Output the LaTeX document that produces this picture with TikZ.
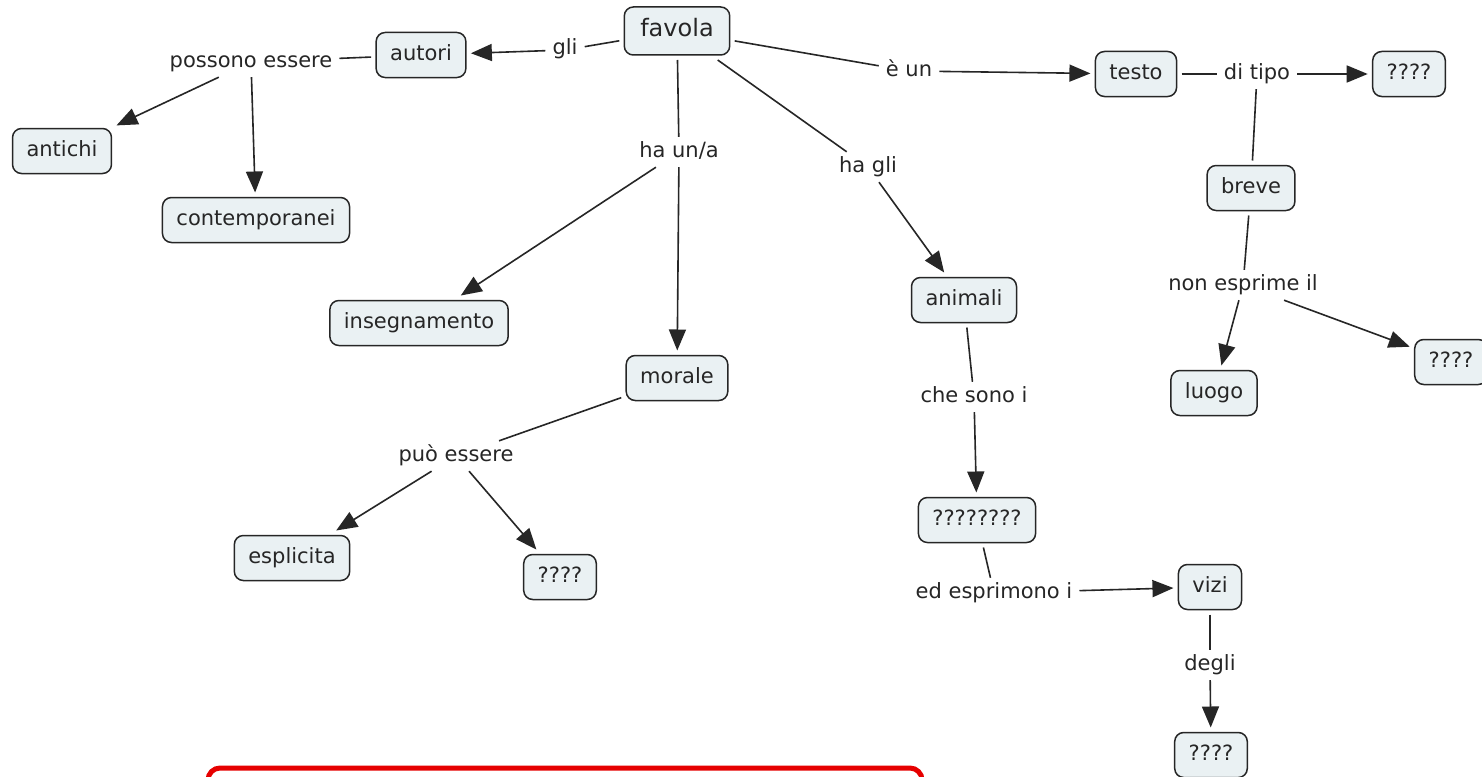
\documentclass[tikz,border=0pt]{standalone}
\usepackage{fontspec}
\setmainfont{DejaVu Sans}
\usetikzlibrary{arrows.meta}
\definecolor{conceptfill}{HTML}{EAF1F3}
\definecolor{ink}{HTML}{262626}
\definecolor{alertred}{HTML}{E60000}
\begin{document}
\begin{tikzpicture}[x=1pt,y=-1pt,
  concept/.style={draw=ink, fill=conceptfill, line width=1.5pt, rounded corners=9pt,
    minimum height=45pt, inner xsep=14pt, inner ysep=0pt,
    text height=15pt, text depth=5pt, font=\fontsize{21}{25}\selectfont,
    text=ink, outer sep=5pt},
  link/.style={inner xsep=7pt, inner ysep=5pt, text height=15pt, text depth=5pt,
    font=\fontsize{21}{25}\selectfont, text=ink},
  conn/.style={draw=ink, line width=1.6pt},
  arr/.style={conn, -{Triangle[length=21pt,width=17pt]}},
]
\clip (0,0) rectangle (1482,776);
\fill[white] (0,0) rectangle (1482,776);

% concepts
\node[concept, font=\fontsize{24}{28}\selectfont, minimum height=48pt, inner xsep=16pt,
      text height=17pt, text depth=6pt] (favola) at (677,31) {favola};
\node[concept] (autori) at (421,55) {autori};
\node[concept] (antichi) at (62,151) {antichi};
\node[concept] (contemp) at (256,220) {contemporanei};
\node[concept] (testo) at (1136,74) {testo};
\node[concept] (qtop) at (1409,74) {????};
\node[concept] (breve) at (1251,188) {breve};
\node[concept] (luogo) at (1214,393) {luogo};
\node[concept] (qright) at (1451,362) {????};
\node[concept] (insegn) at (419,323) {insegnamento};
\node[concept] (morale) at (677,378) {morale};
\node[concept] (esplicita) at (292,558) {esplicita};
\node[concept] (qleft) at (560,577) {????};
\node[concept] (animali) at (964,300) {animali};
\node[concept] (qlong) at (977,520) {????????};
\node[concept] (vizi) at (1210,587) {vizi};
\node[concept] (qbottom) at (1211,755) {????};

% linking phrases
\node[link] (gli) at (565,50) {gli};
\node[link] (possono) at (251,62) {possono essere};
\node[link] (eun) at (909,71) {è un};
\node[link] (ditipo) at (1257,74) {di tipo};
\node[link] (nonespr) at (1243,285) {non esprime il};
\node[link] (haun) at (679,152) {ha un/a};
\node[link] (hagli) at (868,167) {ha gli};
\node[link] (puo) at (456,456) {può essere};
\node[link] (chesono) at (974,397) {che sono i};
\node[link] (edespr) at (994,593) {ed esprimono i};
\node[link] (degli) at (1210,665) {degli};

% connectors
\draw[conn] (favola) -- (gli);
\draw[arr] (gli) -- (autori);
\draw[conn] (autori) -- (possono);
\draw[arr] (possono) -- (antichi);
\draw[arr] (possono) -- (contemp);

\draw[conn] (favola) -- (eun);
\draw[arr] (eun) -- (testo);
\draw[conn] (testo) -- (ditipo);
\draw[arr] (ditipo) -- (qtop);
\draw[conn] (ditipo) -- (breve);
\draw[conn] (breve) -- (nonespr);
\draw[arr] (nonespr) -- (luogo);
\draw[arr] (nonespr) -- (qright);

\draw[conn] (favola) -- (haun);
\draw[arr] (haun) -- (insegn);
\draw[arr] (haun) -- (morale);
\draw[conn] (morale) -- (puo);
\draw[arr] (puo) -- (esplicita);
\draw[arr] (puo) -- (qleft);

\draw[conn] (favola) -- (hagli);
\draw[arr] (hagli) -- (animali);
\draw[conn] (animali) -- (chesono);
\draw[arr] (chesono) -- (qlong);
\draw[conn] (qlong) -- (edespr);
\draw[arr] (edespr) -- (vizi);
\draw[conn] (vizi) -- (degli);
\draw[arr] (degli) -- (qbottom);

% red frame at the bottom edge
\draw[alertred, line width=5pt, rounded corners=12pt] (208,768) rectangle (922,830);
\end{tikzpicture}
\end{document}
